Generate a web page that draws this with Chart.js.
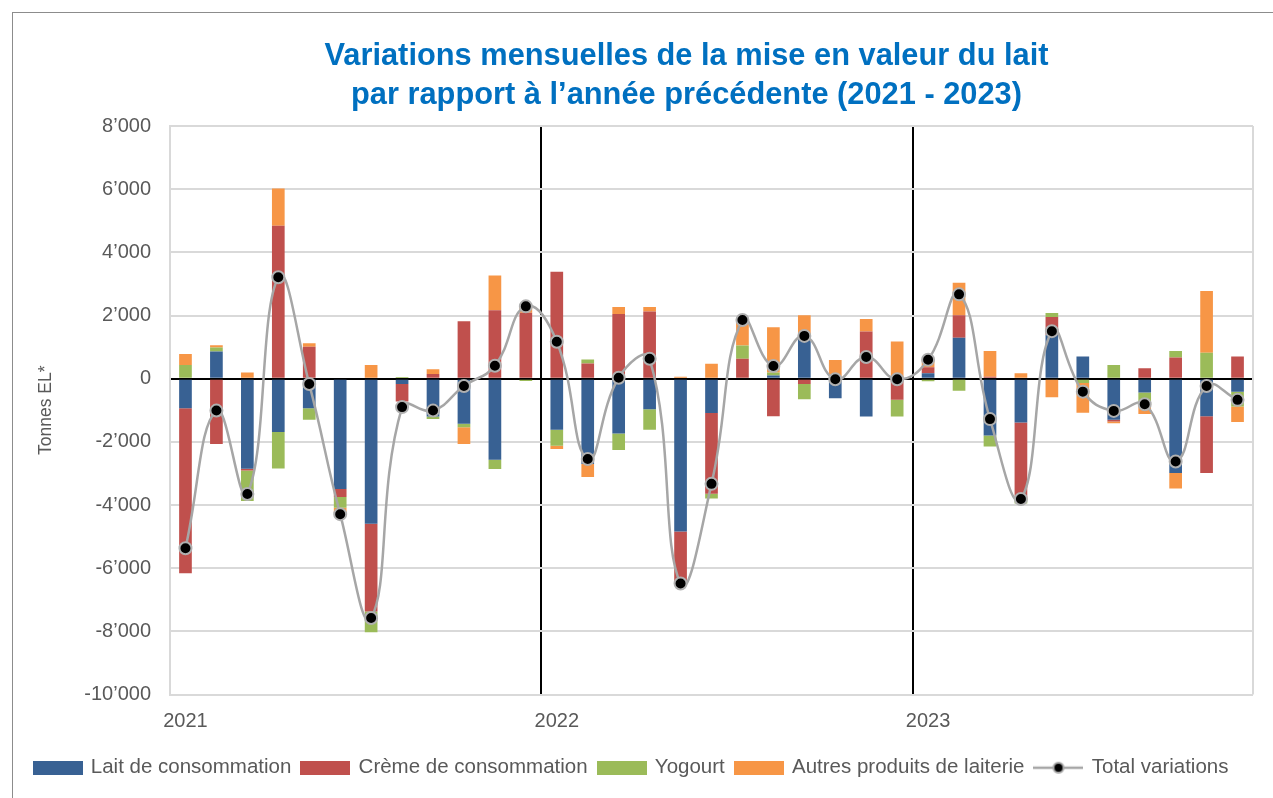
<!DOCTYPE html>
<html>
<head>
<meta charset="utf-8">
<script src="https://cdn.jsdelivr.net/npm/chart.js@4/dist/chart.umd.min.js"></script>
<style>
  body { margin: 0; background: #fff; }
  #wrap { position: relative; width: 1273px; height: 798px; }
  #frame { position: absolute; left: 12px; top: 12px; right: 0; bottom: 0; border-left: 1.5px solid #8c8c8c; border-top: 1.5px solid #8c8c8c; }
  canvas { position: absolute; left: 0; top: 0; }
</style>
</head>
<body>
<div id="wrap">
  <div id="frame"></div>
  <canvas id="chart" width="1273" height="798"></canvas>
</div>
<script>
// mois de janvier 2021 à novembre 2023
const months = [
    '2021-01','2021-02','2021-03','2021-04','2021-05','2021-06','2021-07','2021-08','2021-09','2021-10','2021-11','2021-12',
    '2022-01','2022-02','2022-03','2022-04','2022-05','2022-06','2022-07','2022-08','2022-09','2022-10','2022-11','2022-12',
    '2023-01','2023-02','2023-03','2023-04','2023-05','2023-06','2023-07','2023-08','2023-09','2023-10','2023-11'
];

const laitConsommation = [
    -935, 860, -2850, -1690, -935, -3490, -4595, -170, -1200, -1430, -2565, 30,
    -1620, -2700, -1735, -965, -4835, -1090, 0, 105, 1275, -620, -1200, 0,
    170, 1295, -1800, -1390, 1380, 705, -1300, -440, -2990, -1190, -410
];
const cremeConsommation = [
    -5225, -2070, -60, 4840, 1010, -260, -2775, -555, 150, 1820, 2170, 2060,
    3390, 485, 2050, 2125, -1650, -2555, 630, -1190, -165, 0, 1495, -670,
    190, 715, 60, -2415, 575, 0, -55, 330, 675, -1795, 705
];
const yogourt = [
    430, 130, -960, -1150, -365, -340, -660, 50, -80, -105, -295, -70,
    -500, 125, -525, -655, 0, -150, 425, 95, -485, 0, 0, -530,
    -80, -380, -345, -150, 125, -135, 430, -335, 200, 820, -470
];
const autresProduits = [
    350, 70, 200, 1185, 115, -150, 430, 0, 150, -535, 1100, 240,
    -110, -410, 220, 145, 60, 475, 805, 1430, 735, 590, 395, 1180,
    240, 1030, 815, 170, -590, -940, -55, -340, -490, 1955, -495
];
const totalVariations = [
    -5370, -1010, -3650, 3210, -170, -4290, -7580, -900, -1010, -230, 410, 2290,
    1170, -2545, 30, 630, -6485, -3330, 1860, 400, 1355, -20, 685, -20,
    600, 2670, -1280, -3810, 1505, -410, -1020, -810, -2620, -230, -670
];

const yTicks = [-10000, -8000, -6000, -4000, -2000, 0, 2000, 4000, 6000, 8000];

const colors = {
    lait: '#386193',
    creme: '#C0504D',
    yogourt: '#9BBB59',
    autres: '#F79646',
    ligne: '#A6A6A6'
};

function formatTonnes(v) {
    const s = Math.abs(v).toString().replace(/\B(?=(\d{3})+(?!\d))/g, '\u2019');
    return (v < 0 ? '-' : '') + s;
}

function swatch(color) {
    const c = document.createElement('canvas');
    c.width = 50; c.height = 14;
    const g = c.getContext('2d');
    g.fillStyle = color;
    g.fillRect(0, 0, 50, 14);
    return c;
}

function lineSwatch() {
    const c = document.createElement('canvas');
    c.width = 50; c.height = 16;
    const g = c.getContext('2d');
    g.strokeStyle = colors.ligne;
    g.lineWidth = 2.5;
    g.beginPath(); g.moveTo(0, 8); g.lineTo(50, 8); g.stroke();
    g.beginPath(); g.arc(25, 8, 5, 0, Math.PI * 2);
    g.fillStyle = '#000'; g.fill();
    g.lineWidth = 2; g.stroke();
    return c;
}

const legendImages = [swatch(colors.lait), swatch(colors.creme), swatch(colors.yogourt), swatch(colors.autres), lineSwatch()];

const plotFrame = {
    id: 'plotFrame',
    afterLayout(chart) {
        // le titre est un peu décalé vers la droite dans l'original
        if (chart.titleBlock) {
            chart.titleBlock.left += 55;
            chart.titleBlock.right += 55;
        }
    },
    beforeDatasetsDraw(chart) {
        const a = chart.chartArea;
        const ctx = chart.ctx;
        ctx.save();
        ctx.strokeStyle = '#d9d9d9';
        ctx.lineWidth = 2;
        ctx.beginPath();
        ctx.moveTo(a.right, a.top);
        ctx.lineTo(a.right, a.bottom);
        ctx.stroke();
        ctx.restore();
    }
};

const barDefaults = { type: 'bar', stack: 'produits', order: 1, barPercentage: 0.41, categoryPercentage: 1 };

new Chart(document.getElementById('chart'), {
    data: {
        labels: months,
        datasets: [
            { ...barDefaults, label: 'Lait de consommation', data: laitConsommation, backgroundColor: colors.lait },
            { ...barDefaults, label: 'Crème de consommation', data: cremeConsommation, backgroundColor: colors.creme },
            { ...barDefaults, label: 'Yogourt', data: yogourt, backgroundColor: colors.yogourt },
            { ...barDefaults, label: 'Autres produits de laiterie', data: autresProduits, backgroundColor: colors.autres },
            {
                type: 'line',
                label: 'Total variations',
                data: totalVariations,
                stack: 'total',
                order: 0,
                borderColor: colors.ligne,
                borderWidth: 2.5,
                tension: 0.45,
                pointRadius: 6,
                pointBackgroundColor: '#000',
                pointBorderColor: '#B0B0B0',
                pointBorderWidth: 2
            }
        ]
    },
    options: {
        responsive: false,
        animation: false,
        layout: { padding: { left: 10, right: 20, top: 0, bottom: 10 } },
        plugins: {
            tooltip: { enabled: false },
            title: {
                display: true,
                text: ['Variations mensuelles de la mise en valeur du lait', 'par rapport à l\u2019année précédente (2021 - 2023)'],
                color: '#0070C0',
                font: { family: 'Liberation Sans', size: 30.8, weight: 'bold', lineHeight: 1.267 },
                padding: { top: 37, bottom: 11 }
            },
            legend: {
                position: 'bottom',
                labels: {
                    usePointStyle: true,
                    pointStyleWidth: 46,
                    padding: 11,
                    color: '#595959',
                    font: { family: 'Liberation Sans', size: 20.5 },
                    sort: (a, b) => a.datasetIndex - b.datasetIndex,
                    generateLabels: (chart) => chart.data.datasets.map((ds, i) => ({
                        text: ds.label,
                        datasetIndex: i,
                        pointStyle: legendImages[i],
                        fillStyle: 'transparent',
                        strokeStyle: 'transparent',
                        lineWidth: 0,
                        hidden: false,
                        fontColor: '#595959'
                    }))
                }
            }
        },
        scales: {
            x: {
                stacked: true,
                border: { display: false },
                grid: {
                    offset: true,
                    drawTicks: false,
                    lineWidth: 2,
                    color: (ctx) => (ctx.index === 12 || ctx.index === 24) ? '#000' : 'rgba(0,0,0,0)'
                },
                ticks: {
                    autoSkip: false,
                    maxRotation: 0,
                    padding: 15,
                    color: '#595959',
                    font: { family: 'Liberation Sans', size: 20 },
                    callback: function (value, index) {
                        const m = months[index];
                        return m.endsWith('-01') ? m.slice(0, 4) : '';
                    }
                },
                afterFit: (s) => { s.height = 52; }
            },
            y: {
                stacked: true,
                min: yTicks[0],
                max: yTicks[yTicks.length - 1],
                afterBuildTicks: (s) => { s.ticks = yTicks.map(v => ({ value: v })); },
                border: { display: true, color: '#d9d9d9', width: 2 },
                grid: {
                    drawTicks: false,
                    lineWidth: 2,
                    color: (ctx) => ctx.tick && ctx.tick.value === 0 ? '#000' : '#d9d9d9'
                },
                ticks: {
                    padding: 19,
                    color: '#595959',
                    font: { family: 'Liberation Sans', size: 20 },
                    callback: (v) => formatTonnes(v)
                },
                title: {
                    display: true,
                    text: 'Tonnes EL*',
                    color: '#595959',
                    font: { family: 'Liberation Sans', size: 17.5 },
                    padding: { top: 26, bottom: 0 }
                },
                afterFit: (s) => { s.width = 160; }
            }
        }
    },
    plugins: [plotFrame]
});
</script>
</body>
</html>
